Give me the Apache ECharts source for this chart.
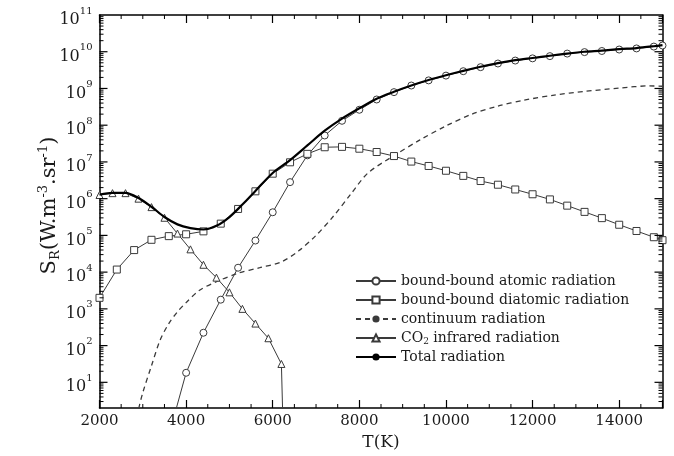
<!DOCTYPE html>
<html><head><meta charset="utf-8">
<script src="https://cdn.jsdelivr.net/npm/echarts@6/dist/echarts.min.js"></script>
<style>html,body{margin:0;padding:0;background:#fff}#c{width:674px;height:456px}</style>
</head><body><div id="c"></div>
<script>
// ---- data (temperatures in K, values given as log10 of S_R) ----
const atomicT   = [3600,4000,4400,4800,5200,5600,6000,6400,6800,7200,7600,8000,8400,8800,9200,9600,10000,10400,10800,11200,11600,12000,12400,12800,13200,13600,14000,14400,14800,15000];
const atomicLog = [-0.45,1.26,2.35,3.25,4.12,4.86,5.63,6.45,7.18,7.72,8.12,8.42,8.70,8.90,9.08,9.22,9.35,9.47,9.58,9.68,9.76,9.82,9.88,9.95,9.99,10.02,10.06,10.09,10.14,10.17];

const diatomicT   = [2000,2400,2800,3200,3600,4000,4400,4800,5200,5600,6000,6400,6800,7200,7600,8000,8400,8800,9200,9600,10000,10400,10800,11200,11600,12000,12400,12800,13200,13600,14000,14400,14800,15000];
const diatomicLog = [3.30,4.07,4.60,4.88,4.98,5.03,5.11,5.32,5.72,6.20,6.68,6.99,7.22,7.40,7.41,7.36,7.27,7.16,7.01,6.89,6.76,6.62,6.48,6.38,6.25,6.12,5.98,5.81,5.64,5.47,5.29,5.12,4.95,4.87];

const continuumT   = [2850,2900,3000,3200,3400,3600,3800,4000,4300,4700,5200,5700,6200,6600,7000,7400,7800,8200,8800,9400,10000,10600,11200,11800,12500,13200,14000,14700,15000];
const continuumLog = [-0.2,0.25,0.72,1.45,2.15,2.60,2.92,3.17,3.50,3.74,3.97,4.12,4.28,4.58,5.00,5.52,6.12,6.70,7.17,7.60,7.98,8.30,8.52,8.68,8.82,8.92,9.01,9.07,9.06];

const co2T   = [2000,2300,2600,2900,3200,3500,3800,4100,4400,4700,5000,5300,5600,5900,6200,6300];
const co2Log = [6.10,6.15,6.15,6.00,5.77,5.48,5.05,4.62,4.20,3.85,3.45,3.00,2.60,2.20,1.50,-3.0];

const totalT   = [2000,2300,2600,2900,3200,3500,3800,4100,4400,4700,5000,5300,5600,6000,6400,6800,7200,7600,8000,8400,8800,9200,9600,10000,10400,10800,11200,11600,12000,12400,12800,13200,13600,14000,14400,14800,15000];
const totalLog = [6.11,6.16,6.16,6.02,5.78,5.50,5.30,5.20,5.16,5.26,5.50,5.84,6.21,6.70,7.05,7.45,7.85,8.18,8.46,8.72,8.91,9.08,9.23,9.36,9.48,9.59,9.69,9.77,9.83,9.89,9.95,10.00,10.03,10.07,10.10,10.15,10.18];

const seriesNames = ['bound-bound atomic radiation','bound-bound diatomic radiation','continuum radiation','CO2 infrared radiation','Total radiation'];
const xTickLabels = ['2000','4000','6000','8000','10000','12000','14000'];
const yExponents = [1,2,3,4,5,6,7,8,9,10,11];

// ---- axis ranges ----
const X_MIN = 2000, X_MAX = 15000, Y_MIN = 2, Y_MAX = 1e11;
const FONT = 'DejaVu Serif';
const INK = '#1a1a1a';

function pairs(ts, logs) { return ts.map((t, i) => [t, Math.pow(10, logs[i])]); }

// tick positions (axis decoration)
const yTicks = [];
for (let k = 0; k <= 10; k++) for (let m = 2; m <= 9; m++) { const v = m * Math.pow(10, k); if (v > Y_MIN && v < Y_MAX) yTicks.push([X_MIN, v, 4]); }
for (let k = 1; k <= 10; k++) yTicks.push([X_MIN, Math.pow(10, k), 8]);
const xMinor = [];
for (let t = X_MIN + 500; t < X_MAX; t += 500) if ((t - X_MIN) % 2000 !== 0) xMinor.push([t, Y_MIN]);
const yLabelData = yExponents.map(e => [X_MIN, Math.pow(10, e), e]);

const chart = echarts.init(document.getElementById('c'), null, {renderer: 'canvas'});

const markerLine = (name, ts, logs, symbol) => ({
  name, type: 'line', data: pairs(ts, logs), symbol, symbolSize: 7, showSymbol: true,
  itemStyle: {color: '#fff', borderColor: '#3a3a3a', borderWidth: 1},
  lineStyle: {color: '#3a3a3a', width: 1}, clip: true, z: 3
});

const option = {
  animation: false,
  backgroundColor: '#fff',
  grid: {left: 99.5, right: 11.5, top: 15, bottom: 48},
  legend: {
    data: seriesNames, orient: 'vertical', left: 350, top: 268,
    itemWidth: 40, itemHeight: 9, itemGap: 3, selectedMode: false,
    textStyle: {fontFamily: FONT, fontSize: 14, color: INK, lineHeight: 16,
      rich: {s: {fontFamily: FONT, fontSize: 9, lineHeight: 10, padding: [7, 0, 0, 0], color: INK}}},
    formatter: n => n === 'CO2 infrared radiation' ? 'CO{s|2} infrared radiation' : n
  },
  xAxis: [{
    type: 'value', min: X_MIN, max: X_MAX, interval: 2000, position: 'bottom',
    axisLine: {lineStyle: {color: '#000', width: 1.5}},
    axisTick: {inside: true, length: 8, lineStyle: {color: '#000', width: 1.2}},
    axisLabel: {fontFamily: FONT, fontSize: 15, color: INK, margin: 6,
      formatter: v => xTickLabels.indexOf(String(v)) >= 0 ? String(v) : ''},
    splitLine: {show: false},
    name: 'T(K)', nameLocation: 'middle', nameGap: 19,
    nameTextStyle: {fontFamily: FONT, fontSize: 17, color: INK}
  }, {
    type: 'value', min: X_MIN, max: X_MAX, interval: 2000, position: 'top',
    axisLine: {lineStyle: {color: '#000', width: 1.5}},
    axisTick: {inside: true, length: 8, lineStyle: {color: '#000', width: 1.2}},
    axisLabel: {show: false}, splitLine: {show: false}
  }],
  yAxis: [{
    type: 'log', logBase: 10, min: Y_MIN, max: Y_MAX,
    axisLine: {lineStyle: {color: '#000', width: 1.5}},
    axisTick: {show: false}, axisLabel: {show: false}, splitLine: {show: false},
    name: 'S{sub|R}(W.m{sup|-3}.sr{sup|-1})', nameLocation: 'middle', nameGap: 37, nameRotate: 90,
    nameTextStyle: {fontFamily: FONT, fontSize: 21, lineHeight: 25, color: INK, padding: [0, 0, 0, 12], rich: {
      sub: {fontFamily: FONT, fontSize: 13, lineHeight: 13, padding: [12, 0, 0, 0], color: INK},
      sup: {fontFamily: FONT, fontSize: 13, lineHeight: 13, padding: [0, 0, 12, 0], color: INK}
    }}
  }, {
    type: 'log', logBase: 10, min: Y_MIN, max: Y_MAX, position: 'right',
    axisLine: {lineStyle: {color: '#000', width: 1.5}},
    axisTick: {show: false}, axisLabel: {show: false}, splitLine: {show: false}
  }],
  series: [
    markerLine(seriesNames[0], atomicT, atomicLog, 'circle'),
    markerLine(seriesNames[1], diatomicT, diatomicLog, 'rect'),
    {name: seriesNames[2], type: 'line', data: pairs(continuumT, continuumLog), symbol: 'none', smooth: 0.3,
      lineStyle: {color: '#3a3a3a', width: 1.3, type: [5, 4]}, itemStyle: {color: '#3a3a3a'}, clip: true, z: 2},
    markerLine(seriesNames[3], co2T, co2Log, 'triangle'),
    {name: seriesNames[4], type: 'line', data: pairs(totalT, totalLog), symbol: 'none', smooth: 0.3,
      lineStyle: {color: '#000', width: 2.2}, itemStyle: {color: '#000'}, clip: true, z: 4},
    // y ticks (major at decades, minor at 2..9) on left and right axes
    {type: 'custom', silent: true, clip: false, z: 10, data: yTicks, encode: {x: 0, y: 1},
      renderItem: (p, api) => {
        const v = api.value(1), len = api.value(2);
        const a = api.coord([X_MIN, v]), b = api.coord([X_MAX, v]);
        const w = len > 4 ? 1.2 : 1;
        return {type: 'group', children: [
          {type: 'line', shape: {x1: a[0], y1: a[1], x2: a[0] + len, y2: a[1]}, style: {stroke: '#000', lineWidth: w}},
          {type: 'line', shape: {x1: b[0], y1: b[1], x2: b[0] - len, y2: b[1]}, style: {stroke: '#000', lineWidth: w}}
        ]};
      }},
    // x minor ticks on bottom and top axes
    {type: 'custom', silent: true, clip: false, z: 10, data: xMinor, encode: {x: 0, y: 1},
      renderItem: (p, api) => {
        const t = api.value(0);
        const a = api.coord([t, Y_MIN]), b = api.coord([t, Y_MAX]);
        return {type: 'group', children: [
          {type: 'line', shape: {x1: a[0], y1: a[1], x2: a[0], y2: a[1] - 4}, style: {stroke: '#000', lineWidth: 1}},
          {type: 'line', shape: {x1: b[0], y1: b[1], x2: b[0], y2: b[1] + 4}, style: {stroke: '#000', lineWidth: 1}}
        ]};
      }},
    // y tick labels 10^n placed through the log scale
    {type: 'custom', silent: true, clip: false, z: 10, data: yLabelData, encode: {x: 0, y: 1},
      renderItem: (p, api) => {
        const v = api.value(1), e = api.value(2);
        const a = api.coord([X_MIN, v]);
        return {type: 'text', x: a[0] - 7, y: a[1], style: {
          text: '{b|10}{e|' + e + '}', align: 'right', verticalAlign: 'middle',
          fontFamily: FONT, fontSize: 16, fill: INK,
          rich: {
            b: {fontFamily: FONT, fontSize: 16, lineHeight: 18, padding: [10, 0, 0, 0], fill: INK},
            e: {fontFamily: FONT, fontSize: 10, lineHeight: 12, padding: [4, 0, 12, 0], fill: INK}
          }
        }};
      }}
  ]
};
chart.setOption(option);
</script>
</body></html>
